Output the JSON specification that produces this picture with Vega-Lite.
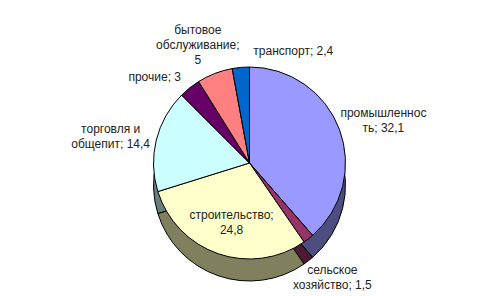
{
  "$schema": "https://vega.github.io/schema/vega-lite/v6.json",
  "width": 499,
  "height": 296,
  "autosize": {"type": "fit", "contains": "padding"},
  "padding": {"top": 30, "bottom": 0, "left": 5, "right": 5},
  "background": "white",
  "view": {"stroke": null},
  "data": {
    "values": [
      {"i": 1, "k": "промышленность", "v": 32.1, "label": "промышленнос\nть; 32,1"},
      {"i": 2, "k": "сельское хозяйство", "v": 1.5, "label": "сельское\nхозяйство; 1,5"},
      {"i": 3, "k": "строительство", "v": 24.8, "label": "строительство;\n24,8"},
      {"i": 4, "k": "торговля и общепит", "v": 14.4, "label": "торговля и\nобщепит; 14,4"},
      {"i": 5, "k": "прочие", "v": 3, "label": "прочие; 3"},
      {"i": 6, "k": "бытовое обслуживание", "v": 5, "label": "бытовое\nобслуживание;\n5"},
      {"i": 7, "k": "транспорт", "v": 2.4, "label": "транспорт; 2,4"}
    ]
  },
  "encoding": {
    "theta": {"field": "v", "type": "quantitative", "stack": true},
    "order": {"field": "i", "type": "quantitative"}
  },
  "layer": [
    {
      "mark": {"type": "arc", "outerRadius": 96, "yOffset": 22, "stroke": "black", "strokeWidth": 1},
      "encoding": {
        "color": {
          "field": "k",
          "type": "nominal",
          "scale": {
            "domain": ["промышленность", "сельское хозяйство", "строительство", "торговля и общепит", "прочие", "бытовое обслуживание", "транспорт"],
            "range": ["#4D4D80", "#4D1A33", "#80805F", "#668080", "#330033", "#804040", "#003366"]
          },
          "legend": null
        }
      }
    },
    {
      "mark": {"type": "arc", "outerRadius": 96, "stroke": "black", "strokeWidth": 1},
      "encoding": {
        "fill": {
          "field": "k",
          "type": "nominal",
          "scale": {
            "domain": ["промышленность", "сельское хозяйство", "строительство", "торговля и общепит", "прочие", "бытовое обслуживание", "транспорт"],
            "range": ["#9999FF", "#993366", "#FFFFCC", "#CCFFFF", "#660066", "#FF8080", "#0066CC"]
          },
          "legend": null
        }
      }
    },
    {
      "mark": {
        "type": "text",
        "font": "Liberation Sans",
        "fontSize": 12,
        "color": "#222222",
        "lineBreak": "\n",
        "lineHeight": 15,
        "radius": {"expr": "datum.k === 'строительство' ? 55 : datum.k === 'промышленность' ? 143 : datum.k === 'сельское хозяйство' ? 135 : datum.k === 'торговля и общепит' ? 143 : datum.k === 'прочие' ? 110 : datum.k === 'бытовое обслуживание' ? 143 : 112"},
        "align": {"expr": "datum.k === 'транспорт' ? 'left' : datum.k === 'прочие' ? 'right' : 'center'"},
        "dx": {"expr": "datum.k === 'транспорт' ? 14 : 0"}
      },
      "encoding": {"text": {"field": "label", "type": "nominal"}}
    }
  ]
}
